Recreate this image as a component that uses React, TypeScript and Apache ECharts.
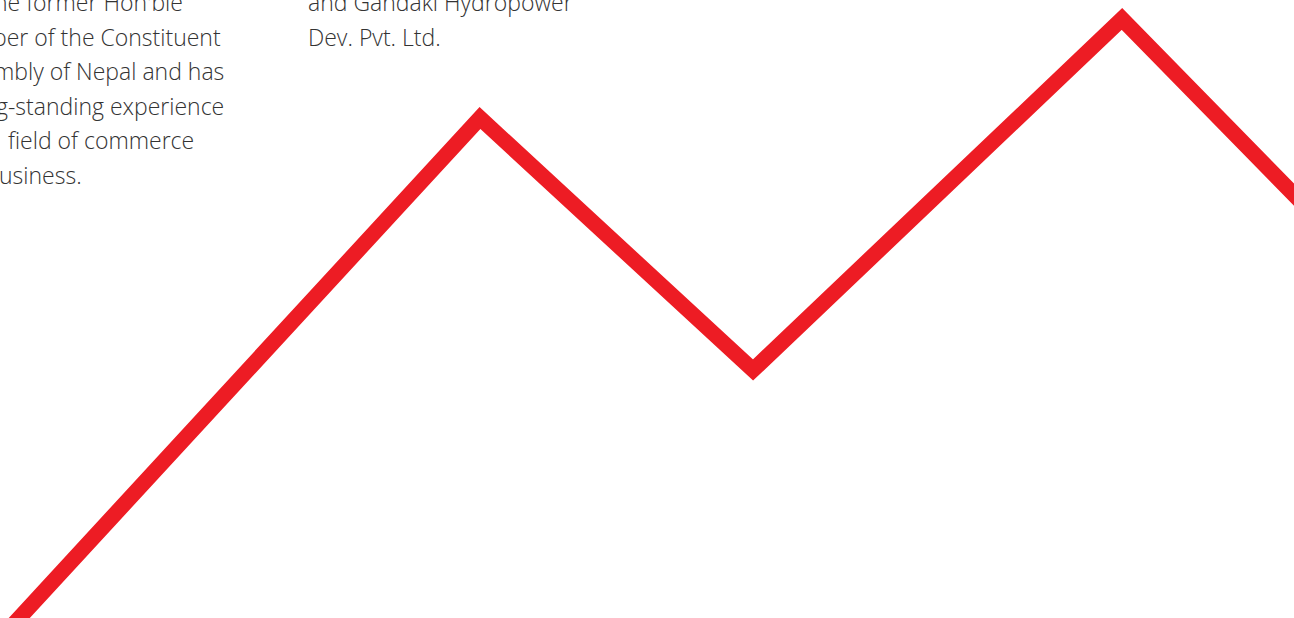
import React, { useEffect, useRef } from "react";
import * as echarts from "echarts";

// Line vertices (x position, height value)
const xValues = [-1, 480, 753, 1122, 1310];
const yValues = [-22, 500, 248, 599, 407];

// Text fragments
const leftLines = [
  "ne former Hon'ble",
  "ber of the Constituent",
  "mbly of Nepal and has",
  "g-standing experience",
  "field of commerce",
  "usiness.",
];
const rightLines = ["and Gandaki Hydropower", "Dev. Pvt. Ltd."];

const LINE_H = 34.5;

export default function App() {
  const ref = useRef<HTMLDivElement>(null);
  useEffect(() => {
    if (!ref.current) return;
    const chart = echarts.init(ref.current, undefined, { renderer: "svg" });
    const textStyle = {
      fill: "#333333",
      fontFamily: "Open Sans",
      fontWeight: 300,
      fontSize: 23,
      textVerticalAlign: "middle",
    };
    const leftX = [-6, -7, -6, -4, 8, -1];
    const graphics: any[] = [];
    leftLines.forEach((t, i) => {
      graphics.push({
        type: "text",
        x: leftX[i],
        y: 2 + i * LINE_H,
        style: { ...textStyle, text: t },
      });
    });
    rightLines.forEach((t, i) => {
      graphics.push({
        type: "text",
        x: 308,
        y: 2 + i * LINE_H,
        style: { ...textStyle, text: t },
      });
    });
    chart.setOption({
      animation: false,
      backgroundColor: "#ffffff",
      grid: { left: 0, right: 0, top: 0, bottom: 0 },
      xAxis: { type: "value", min: 0, max: 1294, show: false },
      yAxis: { type: "value", min: 0, max: 618, show: false },
      graphic: graphics,
      series: [
        {
          type: "line",
          data: xValues.map((x, i) => [x, yValues[i]]),
          symbol: "none",
          clip: true,
          lineStyle: { color: "#ed1c24", width: 15.5, join: "miter", cap: "butt" },
        },
      ],
    });
    return () => chart.dispose();
  }, []);
  return (
    <div
      ref={ref}
      style={{ position: "fixed", left: 0, top: 0, width: 1294, height: 618 }}
    />
  );
}
